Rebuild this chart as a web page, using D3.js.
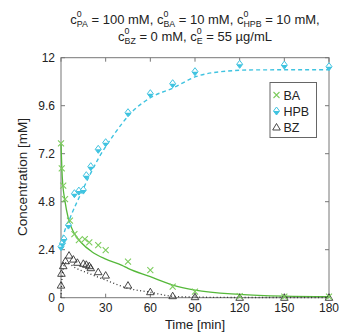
<!DOCTYPE html>
<html>
<head>
<meta charset="utf-8">
<script src="https://cdn.jsdelivr.net/npm/d3@7"></script>
<style>
  body { margin: 0; background: #fff; }
  svg { font-family: "Liberation Sans", Arial, sans-serif; }
</style>
</head>
<body>
<svg width="350" height="332"></svg>
<script>
// measured points
var baT   = [0, 0.5, 1.5, 2.7, 6, 9, 12, 16, 19, 25, 30, 45, 60, 75, 90, 120, 150, 180];
var baC   = [7.72, 6.47, 5.6, 4.93, 3.85, 3.18, 2.88, 2.93, 2.77, 2.63, 2.38, 1.8, 1.38, 0.55, 0.3, 0.08, 0.05, 0.05];
var hpbT  = [0, 1, 2, 5, 9, 12, 15, 17, 20, 25, 30, 45, 60, 75, 90, 120, 150, 180];
var hpbC  = [2.55, 2.72, 2.93, 3.63, 5.2, 5.33, 5.38, 6.1, 6.55, 7.42, 7.75, 9.25, 10.2, 10.7, 11.3, 11.67, 11.63, 11.55];
var bzT   = [0, 0.3, 1.5, 3, 5.4, 8.3, 11, 15, 17, 19, 20, 25, 30, 45, 60, 75, 90, 120, 150, 180];
var bzC   = [0.63, 1.22, 1.6, 1.85, 2.13, 1.93, 1.77, 1.72, 1.67, 1.6, 1.5, 1.3, 1.13, 0.63, 0.3, 0.1, 0.05, 0.02, 0.02, 0.02];

// model curves
var baFitT  = [0, 0.9, 2.7, 4.9, 8.3, 14, 20.7, 29.7, 41, 45, 60, 75, 90, 120, 150, 180];
var baFitC  = [7.7, 5.97, 4.82, 3.97, 3.3, 2.72, 2.3, 1.94, 1.62, 1.47, 1.05, 0.63, 0.38, 0.17, 0.08, 0.05];
var hpbFitT = [0, 1.35, 6.1, 14, 25.2, 35.3, 47.8, 61.3, 74.8, 90.5, 107.4, 129.7, 180];
var hpbFitC = [2.6, 3.05, 3.99, 5.3, 6.97, 8.13, 9.3, 10.05, 10.47, 11.05, 11.3, 11.39, 11.4];
var bzFitT  = [0, 0.5, 1, 2, 3.5, 5, 9.5, 18.5, 30, 45, 60, 75, 90, 120, 180];
var bzFitC  = [0, 0.8, 1.2, 1.6, 1.75, 1.72, 1.5, 1.22, 0.88, 0.47, 0.27, 0.07, 0.03, 0.01, 0.01];

var xTicks = [0, 30, 60, 90, 120, 150, 180];
var yTicks = [0, 2.4, 4.8, 7.2, 9.6, 12];
var legendNames = ["BA", "HPB", "BZ"];

var green = "#55b83a", greenMk = "#7dcc5e", cyan = "#3fc3e0", dark = "#222";

var svg = d3.select("svg");
var m = {l: 61, r: 329, t: 57.7, b: 297.7};
var x = d3.scaleLinear().domain([0, 180]).range([m.l, m.r]);
var y = d3.scaleLinear().domain([0, 12]).range([m.b, m.t]);

// title, super/subscripts stacked on top of each other
function addLine(tx, ty, parts) {
    var t = svg.append("text").attr("x", tx).attr("y", ty).attr("text-anchor", "middle")
        .attr("font-size", 13).attr("fill", dark);
    var back = 0;
    parts.forEach(function(p) {
        if (typeof p === "string") {
            t.append("tspan").attr("dy", back).text(p);
            back = 0;
        } else {
            t.append("tspan").attr("font-size", 8.8).attr("dy", -7).text("0");
            t.append("tspan").attr("font-size", 8.8).attr("dx", -4.9).attr("dy", 10).text(p.sub);
            back = -3;
        }
    });
}
addLine(195, 24, ["c", {sub: "PA"}, " = 100 mM, c", {sub: "BA"}, " = 10 mM, c", {sub: "HPB"}, " = 10 mM,"]);
addLine(195, 40.5, ["c", {sub: "BZ"}, " = 0 mM, c", {sub: "E"}, " = 55 \u00b5g/mL"]);

// frame and ticks
var frame = svg.append("g").attr("stroke", "#777").attr("stroke-width", 1).attr("fill", "none");
frame.append("rect").attr("x", m.l).attr("y", m.t).attr("width", m.r - m.l).attr("height", m.b - m.t);
xTicks.forEach(function(d) {
    frame.append("line").attr("x1", x(d)).attr("x2", x(d)).attr("y1", m.b).attr("y2", m.b - 4);
    frame.append("line").attr("x1", x(d)).attr("x2", x(d)).attr("y1", m.t).attr("y2", m.t + 4);
});
yTicks.forEach(function(d) {
    frame.append("line").attr("x1", m.l).attr("x2", m.l + 4).attr("y1", y(d)).attr("y2", y(d));
    frame.append("line").attr("x1", m.r).attr("x2", m.r - 4).attr("y1", y(d)).attr("y2", y(d));
});

svg.selectAll(".xl").data(xTicks).enter().append("text")
    .attr("x", function(d) { return x(d); }).attr("y", 312)
    .attr("text-anchor", "middle").attr("font-size", 12).attr("fill", dark)
    .text(function(d) { return d; });
svg.selectAll(".yl").data(yTicks).enter().append("text")
    .attr("x", 55).attr("y", function(d) { return y(d) + 4; })
    .attr("text-anchor", "end").attr("font-size", 12).attr("fill", dark)
    .text(function(d) { return d; });

svg.append("text").attr("x", 195).attr("y", 329).attr("text-anchor", "middle")
    .attr("font-size", 13).attr("fill", dark).text("Time [min]");
svg.append("text").attr("transform", "translate(27,177) rotate(-90)").attr("text-anchor", "middle")
    .attr("font-size", 13.5).attr("fill", dark).text("Concentration [mM]");

// fit curves
var line = d3.line().curve(d3.curveMonotoneX)
    .x(function(d) { return x(d[0]); }).y(function(d) { return y(d[1]); });
function pairs(a, b) { return a.map(function(v, i) { return [v, b[i]]; }); }

svg.append("path").attr("d", line(pairs(hpbFitT, hpbFitC))).attr("fill", "none")
    .attr("stroke", cyan).attr("stroke-width", 1.4).attr("stroke-dasharray", "4,3");
svg.append("path").attr("d", line(pairs(baFitT, baFitC))).attr("fill", "none")
    .attr("stroke", green).attr("stroke-width", 1.3);
svg.append("path").attr("d", line(pairs(bzFitT, bzFitC))).attr("fill", "none")
    .attr("stroke", "#333").attr("stroke-width", 1.3).attr("stroke-dasharray", "1,2.5");

// markers
function cross(g, cx, cy) {
    g.append("path").attr("d", "M" + (cx - 3) + "," + (cy - 3) + "L" + (cx + 3) + "," + (cy + 3) +
        "M" + (cx - 3) + "," + (cy + 3) + "L" + (cx + 3) + "," + (cy - 3))
        .attr("stroke", greenMk).attr("stroke-width", 1.1).attr("fill", "none");
}
function diamond(g, cx, cy) {
    g.append("path").attr("d", "M" + cx + "," + (cy - 4) + "L" + (cx + 3) + "," + cy + "L" + cx + "," + (cy + 4) +
        "L" + (cx - 3) + "," + cy + "Z").attr("stroke", cyan).attr("stroke-width", 1).attr("fill", "#fff");
    g.append("path").attr("d", "M" + (cx - 3) + "," + cy + "L" + (cx + 3) + "," + cy + "L" + cx + "," + (cy + 4) + "Z")
        .attr("fill", cyan);
}
function tri(g, cx, cy) {
    g.append("path").attr("d", "M" + cx + "," + (cy - 3.5) + "L" + (cx + 3.8) + "," + (cy + 3) +
        "L" + (cx - 3.8) + "," + (cy + 3) + "Z").attr("stroke", "#333").attr("stroke-width", 0.9).attr("fill", "none");
}

var mk = svg.append("g");
hpbT.forEach(function(t, i) { diamond(mk, x(t), y(hpbC[i])); });
bzT.forEach(function(t, i) { tri(mk, x(t), y(bzC[i])); });
baT.forEach(function(t, i) { cross(mk, x(t), y(baC[i])); });

// legend
var lg = svg.append("g");
lg.append("rect").attr("x", 270).attr("y", 82.5).attr("width", 46.5).attr("height", 55)
    .attr("fill", "#fff").attr("stroke", "#666").attr("stroke-width", 1);
var drawers = [cross, diamond, tri];
legendNames.forEach(function(n, i) {
    var ly = 95 + i * 16;
    drawers[i](lg, 276.5, ly);
    lg.append("text").attr("x", 283.5).attr("y", ly + 4.5).attr("font-size", 12.5).attr("fill", dark).text(n);
});
</script>
</body>
</html>
